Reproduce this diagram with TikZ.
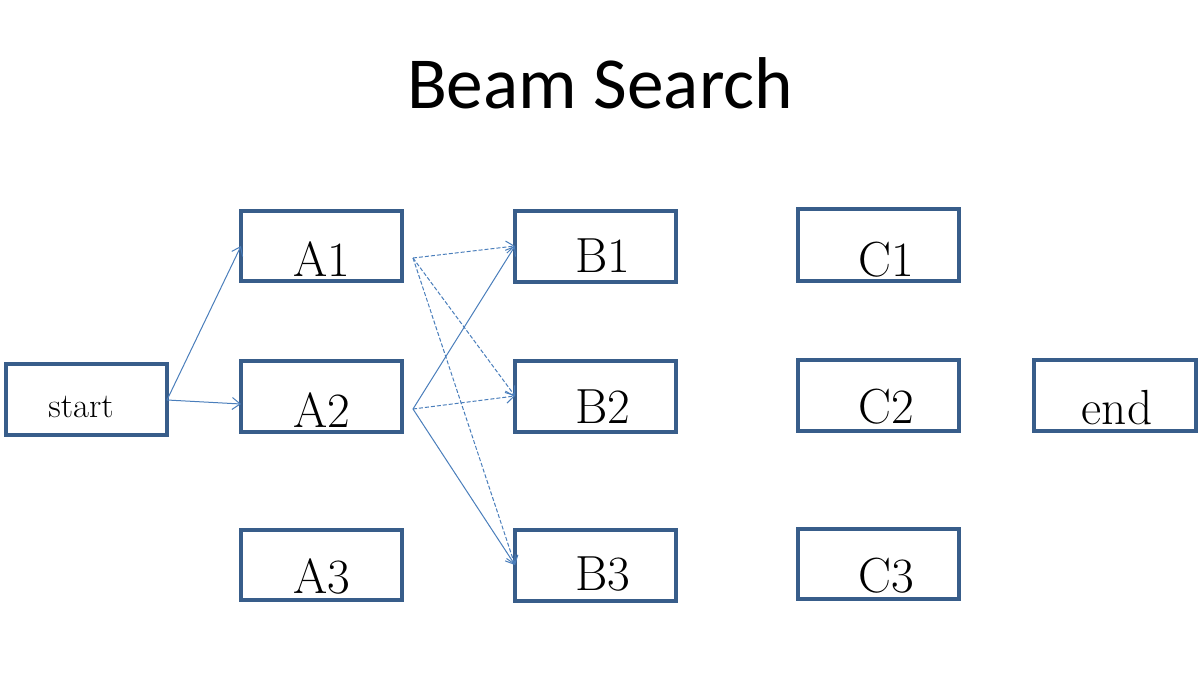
\documentclass[tikz,border=0pt]{standalone}
\usepackage{fontspec}
\newfontfamily\titlefont{Carlito}
\usetikzlibrary{arrows.meta}
\definecolor{boxblue}{HTML}{385D8A}
\definecolor{linkblue}{HTML}{4A7EBB}
\begin{document}
\begin{tikzpicture}[x=0.75pt,y=-0.75pt,
  stbox/.style={draw=boxblue,line width=2.6pt},
  lbl/.style={anchor=base,inner sep=0pt,font=\fontsize{37}{42}\selectfont},
  link/.style={draw=linkblue,line width=0.75pt,-{Straight Barb[length=6pt,width=9pt]}},
  dlink/.style={link,dash pattern=on 3pt off 1.5pt}]
\useasboundingbox (0,0) rectangle (1200,675);
\node[anchor=base,inner sep=0pt,font=\titlefont\fontsize{55}{62}\selectfont] (title) at (600,108) {Beam Search};
% boxes
\path[stbox] (6,364) rectangle (167,435);
\coordinate (startR) at (167,400);
\node[lbl,font=\fontsize{26}{30}\selectfont] (tstart) at (81,417) {start};
\path[stbox] (241,211) rectangle (402,281);
\path[stbox] (241,361) rectangle (402,432);
\path[stbox] (241,530) rectangle (402,600);
\node[lbl] (tA1) at (322,276) {A1};
\node[lbl] (tA2) at (322,427) {A2};
\node[lbl] (tA3) at (322,593) {A3};
\path[stbox] (515,211) rectangle (676,282);
\path[stbox] (515,361) rectangle (676,432);
\path[stbox] (515,530) rectangle (676,601);
\node[lbl] (tB1) at (603,272) {B1};
\node[lbl] (tB2) at (603,423) {B2};
\node[lbl] (tB3) at (603,590) {B3};
\path[stbox] (798,209) rectangle (959,281);
\path[stbox] (798,360) rectangle (959,431);
\path[stbox] (798,529) rectangle (959,599);
\node[lbl] (tC1) at (886,276) {C1};
\node[lbl] (tC2) at (886,423) {C2};
\node[lbl] (tC3) at (886,592) {C3};
\path[stbox] (1034,360) rectangle (1196,431);
\node[lbl] (tend) at (1117,424) {end};
% connector end points
\coordinate (A1L) at (241,246);
\coordinate (A2L) at (241,404);
\coordinate (A1o) at (413,258);
\coordinate (A2o) at (413,409);
\coordinate (B1L) at (515,246);
\coordinate (B2L) at (515,396);
\coordinate (B3L) at (515,565);
% connectors
\draw[link] (startR) -- (A1L);
\draw[link] (startR) -- (A2L);
\draw[dlink] (A1o) -- (B1L);
\draw[dlink] (A1o) -- (B2L);
\draw[dlink] (A1o) -- (B3L);
\draw[link] (A2o) -- (B1L);
\draw[dlink] (A2o) -- (B2L);
\draw[link] (A2o) -- (B3L);
\end{tikzpicture}
\end{document}
